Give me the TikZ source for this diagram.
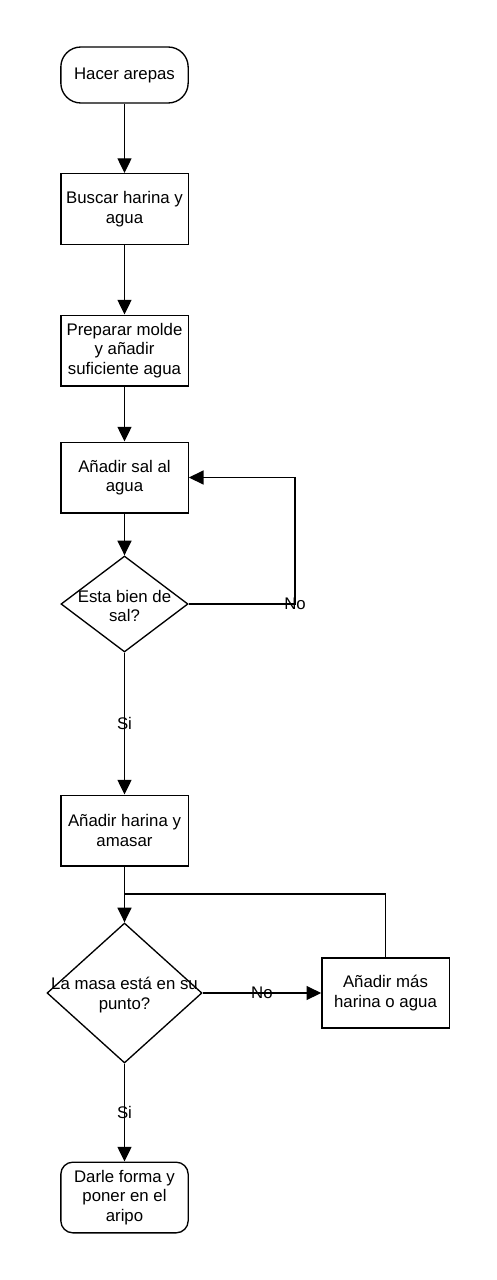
\documentclass[tikz,border=0pt]{standalone}
\usepackage{fontspec}
\setmainfont{Liberation Sans}
\usepackage{tikz}
\usetikzlibrary{arrows.meta,shapes.geometric}

\begin{document}
\begin{tikzpicture}[x=0.75pt,y=0.75pt,yscale=-1,xscale=1,
  font=\fontsize{12.6}{14.5}\selectfont,
  proc/.style={draw,line width=1pt,minimum width=95.5pt,minimum height=53pt,inner sep=0pt,align=center},
  term/.style={proc,rounded corners=9pt},
  decision/.style={draw,line width=1pt,shape=diamond,inner sep=0pt,aspect=1},
  flow/.style={line width=1pt,-{Triangle[length=11pt,width=10.5pt]}},
  link/.style={line width=1pt},
  lbl/.style={inner sep=0.75pt}]
\useasboundingbox (0,0) rectangle (496,1280);

% Terminals and steps
\node [term,minimum height=42pt,rounded corners=15pt] (start) at (124.5,75) {Hacer arepas};
\node [proc] (buscar) at (124.5,209) {Buscar harina y\\agua};
\node [proc] (preparar) at (124.5,350.5) {Preparar molde\\y añadir\\suficiente agua};
\node [proc] (sal) at (124.5,477.5) {Añadir sal al\\agua};

% Decision 1
\node [decision,minimum width=95.25pt,minimum height=72pt] (dsal) at (124.5,604) {};
\node [lbl,align=center] (dsaltxt) at (124.5,606) {Esta bien de\\sal?};

\node [proc] (harina) at (124.5,830.5) {Añadir harina y\\amasar};

% Decision 2
\node [decision,minimum width=116.25pt,minimum height=105pt] (dmasa) at (124.5,993) {};
\node [lbl,align=center] (dmasatxt) at (124.5,995) {La masa está en su\\punto?};

\node [proc,minimum height=52.5pt] (mas) at (385.5,993) {Añadir más\\harina o agua};
\node [term] (final) at (124.5,1197.5) {Darle forma y\\poner en el\\aripo};

\coordinate (join) at (124.5,894);

% Straight Lines
\draw [flow] (start) -- (buscar);
\draw [flow] (buscar) -- (preparar);
\draw [flow] (preparar) -- (sal);
\draw [flow] (sal) -- (dsal);
\draw [flow] (dsal.east) -- (295,604) node [lbl] {No} |- (sal.east);
\draw [flow] (dsal.south) -- node [lbl] {Si} (harina.north);
\draw [flow] (harina) -- (dmasa.north);
\draw [link] (mas.north) |- (join);
\draw [flow] (dmasa.east) -- node [lbl] {No} (mas.west);
\draw [flow] (dmasa.south) -- node [lbl] {Si} (final.north);

\end{tikzpicture}
\end{document}
